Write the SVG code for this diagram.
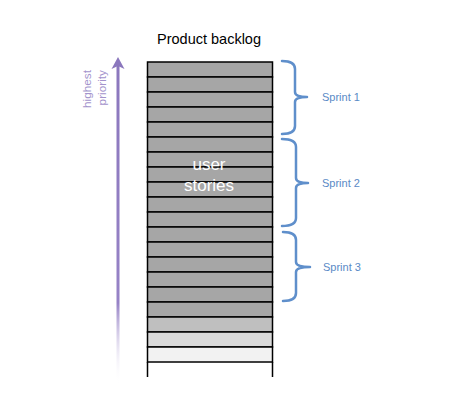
<svg xmlns="http://www.w3.org/2000/svg" width="452" height="415" viewBox="0 0 452 415">
<style>
.row{stroke:#000;stroke-width:1.5}
.g{fill:#a6a6a6}
.brace{fill:none;stroke:#5f8fcb;stroke-width:2.5;stroke-linecap:round}
.sp{font-family:"Liberation Sans",Arial,sans-serif;font-size:11px;fill:#5a8ac6}
.pr{font-family:"Liberation Sans",Arial,sans-serif;font-size:11.8px;fill:#a393cc}
</style>
<defs>
<linearGradient id="arrowGrad" gradientUnits="userSpaceOnUse" x1="0" y1="57" x2="0" y2="385">
<stop offset="0" stop-color="#8b77bd"/>
<stop offset="0.75" stop-color="#9682c6"/>
<stop offset="1" stop-color="#ffffff" stop-opacity="0"/>
</linearGradient>
</defs>
<rect width="452" height="415" fill="#fff"/>
<text x="209" y="44" text-anchor="middle" font-family="'Liberation Sans',Arial,sans-serif" font-size="14.5" fill="#000">Product backlog</text>
<g id="priority-arrow">
<line x1="118" y1="66" x2="118" y2="385" stroke="url(#arrowGrad)" stroke-width="3"/>
<polygon points="118,57 111.5,69 118,66 124.5,69" fill="#8b77bd"/>
<text class="pr" transform="translate(91,70) rotate(-90)" text-anchor="end">highest</text>
<text class="pr" transform="translate(106,70) rotate(-90)" text-anchor="end">priority</text>
</g>
<g id="backlog">
<rect class="row g" x="147.5" y="62" width="125" height="15"/>
<rect class="row g" x="147.5" y="77" width="125" height="15"/>
<rect class="row g" x="147.5" y="92" width="125" height="15"/>
<rect class="row g" x="147.5" y="107" width="125" height="15"/>
<rect class="row g" x="147.5" y="122" width="125" height="15"/>
<rect class="row g" x="147.5" y="137" width="125" height="15"/>
<rect class="row g" x="147.5" y="152" width="125" height="15"/>
<rect class="row g" x="147.5" y="167" width="125" height="15"/>
<rect class="row g" x="147.5" y="182" width="125" height="15"/>
<rect class="row g" x="147.5" y="197" width="125" height="15"/>
<rect class="row g" x="147.5" y="212" width="125" height="15"/>
<rect class="row g" x="147.5" y="227" width="125" height="15"/>
<rect class="row g" x="147.5" y="242" width="125" height="15"/>
<rect class="row g" x="147.5" y="257" width="125" height="15"/>
<rect class="row g" x="147.5" y="272" width="125" height="15"/>
<rect class="row g" x="147.5" y="287" width="125" height="15"/>
<rect class="row g" x="147.5" y="302" width="125" height="15"/>
<rect class="row" x="147.5" y="317" width="125" height="15" fill="#bfbfbf"/>
<rect class="row" x="147.5" y="332" width="125" height="15" fill="#d9d9d9"/>
<rect class="row" x="147.5" y="347" width="125" height="15" fill="#f2f2f2"/>
<path d="M147.5,362 V377 M272.5,362 V377" stroke="#000" stroke-width="1.5" fill="none"/>
<text x="209" y="170" text-anchor="middle" font-family="'Liberation Sans',Arial,sans-serif" font-size="17" fill="#fff">user</text>
<text x="209" y="191" text-anchor="middle" font-family="'Liberation Sans',Arial,sans-serif" font-size="17" fill="#fff">stories</text>
</g>
<g id="sprint1">
<path class="brace" d="M282,61 Q295,61 295,69 L295,92 Q295,97 307,97 M282,134 Q295,134 295,126 L295,102 Q295,97 307,97"/>
<text class="sp" x="322" y="101">Sprint 1</text>
</g>
<g id="sprint2">
<path class="brace" d="M282,139 Q296,139 296,147 L296,178 Q296,183 308,183 M282,226 Q296,226 296,218 L296,188 Q296,183 308,183"/>
<text class="sp" x="322" y="187">Sprint 2</text>
</g>
<g id="sprint3">
<path class="brace" d="M283,232 Q296,232 296,240 L296,262 Q296,267 310,267 M283,301 Q296,301 296,293 L296,272 Q296,267 310,267"/>
<text class="sp" x="323" y="271">Sprint 3</text>
</g>
</svg>
